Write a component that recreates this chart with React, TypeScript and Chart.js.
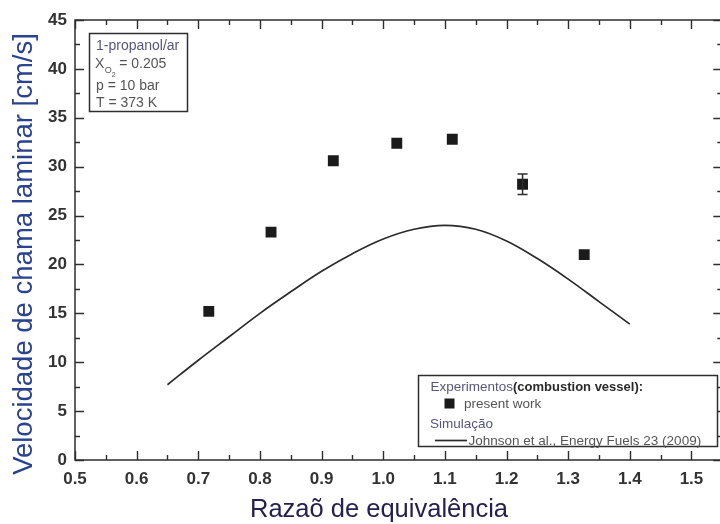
import React, { useEffect, useRef } from "react";
import { Chart, registerables } from "chart.js";

Chart.register(...registerables);

// Measured laminar burning velocities (present work)
const PHI = [0.717, 0.818, 0.919, 1.022, 1.112, 1.226, 1.326];
const SL = [15.2, 23.3, 30.6, 32.4, 32.8, 28.2, 21.0];
const SL_ERR = [0, 0, 0, 0, 0, 1.05, 0];

// Simulation (Johnson et al., Energy Fuels 23, 2009)
const SIM_PHI = [0.65, 0.7, 0.75, 0.8, 0.85, 0.9, 0.95, 1.0, 1.05, 1.1, 1.15, 1.2, 1.25, 1.3, 1.35, 1.4];
const SIM_SL = [7.7, 10.2, 12.6, 15.0, 17.2, 19.3, 21.1, 22.6, 23.6, 24.0, 23.6, 22.4, 20.6, 18.5, 16.2, 13.9];

const X_MIN = 0.5;
const X_MAX = 1.55;
const X_STEP = 0.1;
const Y_MIN = 0;
const Y_MAX = 45;
const Y_STEP = 5;

const X_TITLE = "Razaõ de equivalência";
const Y_TITLE = "Velocidade de chama laminar [cm/s]";
const CONDITIONS = ["1-propanol/ar", "X", "p = 10 bar", "T = 373 K"];
const X_O2_VALUE = " = 0.205";
const LEGEND_GROUP1 = "Experimentos";
const LEGEND_GROUP1_NOTE = "(combustion vessel):";
const LEGEND_EXP = "present work";
const LEGEND_GROUP2 = "Simulação";
const LEGEND_SIM = "Johnson et al., Energy Fuels 23 (2009)";

const FONT = "'Liberation Sans', Arial, Helvetica, sans-serif";
const INK = "#2e2e2e";
const ACCENT = "#56567e";

function minorValues(majors: number[], min: number, max: number): number[] {
  const out: number[] = [];
  for (let i = 0; i < majors.length - 1; i++) out.push((majors[i] + majors[i + 1]) / 2);
  if (majors.length > 1) {
    const step = majors[1] - majors[0];
    const after = majors[majors.length - 1] + step / 2;
    if (after < max - 1e-9) out.push(after);
    const before = majors[0] - step / 2;
    if (before > min + 1e-9) out.push(before);
  }
  return out;
}

const framePlugin = {
  id: "frameTicks",
  afterDraw(chart: any) {
    const { ctx, chartArea: a, scales } = chart;
    const xs = scales.x;
    const ys = scales.y;
    ctx.save();
    ctx.strokeStyle = INK;
    ctx.lineWidth = 1.5;
    ctx.strokeRect(a.left, a.top, a.right - a.left, a.bottom - a.top);
    ctx.lineWidth = 1.4;
    const xMaj = xs.ticks.map((t: any) => t.value);
    const yMaj = ys.ticks.map((t: any) => t.value);
    const drawX = (vals: number[], len: number) => {
      vals.forEach((v) => {
        const px = Math.round(xs.getPixelForValue(v)) + 0.5;
        ctx.beginPath();
        ctx.moveTo(px, a.bottom);
        ctx.lineTo(px, a.bottom - len);
        ctx.moveTo(px, a.top);
        ctx.lineTo(px, a.top + len);
        ctx.stroke();
      });
    };
    const drawY = (vals: number[], len: number) => {
      vals.forEach((v) => {
        const py = Math.round(ys.getPixelForValue(v)) + 0.5;
        ctx.beginPath();
        ctx.moveTo(a.left, py);
        ctx.lineTo(a.left + len, py);
        ctx.moveTo(a.right, py);
        ctx.lineTo(a.right - len, py);
        ctx.stroke();
      });
    };
    drawX(xMaj, 9);
    drawX(minorValues(xMaj, xs.min, xs.max), 5);
    drawY(yMaj, 9);
    drawY(minorValues(yMaj, ys.min, ys.max), 5);
    ctx.restore();
  },
};

const errorBarPlugin = {
  id: "errorBars",
  afterDatasetsDraw(chart: any) {
    const { ctx, scales } = chart;
    const xs = scales.x;
    const ys = scales.y;
    ctx.save();
    ctx.strokeStyle = INK;
    ctx.lineWidth = 1.5;
    PHI.forEach((x, i) => {
      const e = SL_ERR[i];
      if (!e) return;
      const px = xs.getPixelForValue(x);
      const top = ys.getPixelForValue(SL[i] + e);
      const bot = ys.getPixelForValue(SL[i] - e);
      ctx.beginPath();
      ctx.moveTo(px, top);
      ctx.lineTo(px, bot);
      ctx.moveTo(px - 5, top);
      ctx.lineTo(px + 5, top);
      ctx.moveTo(px - 5, bot);
      ctx.lineTo(px + 5, bot);
      ctx.stroke();
    });
    ctx.restore();
  },
};

const notesPlugin = {
  id: "notes",
  afterDraw(chart: any) {
    const { ctx } = chart;
    ctx.save();
    ctx.textBaseline = "alphabetic";

    // axis titles
    ctx.fillStyle = "#2a4390";
    ctx.font = `27.5px ${FONT}`;
    ctx.textAlign = "center";
    ctx.save();
    ctx.translate(32, 254);
    ctx.rotate(-Math.PI / 2);
    ctx.fillText(Y_TITLE, 0, 0);
    ctx.restore();
    ctx.fillStyle = "#25204f";
    ctx.font = `25.5px ${FONT}`;
    ctx.fillText(X_TITLE, 379, 517);

    // conditions box
    ctx.textAlign = "left";
    ctx.strokeStyle = INK;
    ctx.lineWidth = 1.5;
    ctx.strokeRect(89.5, 33.5, 98, 78);
    ctx.font = `14px ${FONT}`;
    ctx.fillStyle = ACCENT;
    ctx.fillText(CONDITIONS[0], 96, 50);
    ctx.fillStyle = "#555";
    ctx.fillText(CONDITIONS[1], 95, 68);
    const xo = 95 + ctx.measureText(CONDITIONS[1]).width;
    ctx.font = `9px ${FONT}`;
    ctx.fillText("O", xo + 0.5, 73);
    const wO = ctx.measureText("O").width;
    ctx.font = `7px ${FONT}`;
    ctx.fillText("2", xo + 0.5 + wO, 77);
    ctx.font = `14px ${FONT}`;
    ctx.fillText(X_O2_VALUE, xo + wO + 4, 68);
    ctx.fillText(CONDITIONS[2], 96, 90);
    ctx.fillText(CONDITIONS[3], 96, 107);

    // legend box
    ctx.fillStyle = "#fff";
    ctx.fillRect(418.5, 375.5, 299, 71);
    ctx.strokeRect(418.5, 375.5, 299, 71);
    ctx.font = `13.5px ${FONT}`;
    ctx.fillStyle = ACCENT;
    ctx.fillText(LEGEND_GROUP1, 430.5, 391);
    const wG = ctx.measureText(LEGEND_GROUP1).width;
    ctx.font = `bold 13px ${FONT}`;
    ctx.fillStyle = "#2a2a2a";
    ctx.fillText(LEGEND_GROUP1_NOTE, 430.5 + wG, 391);
    ctx.fillStyle = "#1b1b1b";
    ctx.fillRect(444.5, 398.5, 10, 10);
    ctx.font = `13.5px ${FONT}`;
    ctx.fillStyle = "#555";
    ctx.fillText(LEGEND_EXP, 464, 408);
    ctx.fillStyle = ACCENT;
    ctx.fillText(LEGEND_GROUP2, 430, 427.5);
    ctx.strokeStyle = "#2b2b2b";
    ctx.lineWidth = 1.7;
    ctx.beginPath();
    ctx.moveTo(435, 440.5);
    ctx.lineTo(467, 440.5);
    ctx.stroke();
    ctx.fillStyle = "#555";
    ctx.fillText(LEGEND_SIM, 468.5, 445);
    ctx.restore();
  },
};

export default function App() {
  const ref = useRef<HTMLCanvasElement>(null);

  useEffect(() => {
    const canvas = ref.current;
    if (!canvas) return;
    const tickFont = { family: FONT, size: 17, weight: "bold" as const };
    const chart = new Chart(canvas, {
      type: "scatter",
      data: {
        datasets: [
          {
            type: "line",
            label: LEGEND_SIM,
            data: SIM_PHI.map((x, i) => ({ x, y: SIM_SL[i] })),
            borderColor: "#2b2b2b",
            borderWidth: 1.7,
            pointRadius: 0,
            tension: 0.4,
            fill: false,
            order: 2,
          } as any,
          {
            type: "scatter",
            label: LEGEND_EXP,
            data: PHI.map((x, i) => ({ x, y: SL[i] })),
            pointStyle: "rect",
            pointRadius: 7.7,
            backgroundColor: "#1b1b1b",
            borderColor: "#1b1b1b",
            borderWidth: 0,
            order: 1,
          },
        ],
      },
      options: {
        responsive: false,
        animation: false,
        layout: { padding: { left: 0, top: 20, right: 5, bottom: 0 } },
        plugins: { legend: { display: false }, tooltip: { enabled: false } },
        scales: {
          x: {
            type: "linear",
            min: X_MIN,
            max: X_MAX,
            afterFit: (s: any) => {
              s.height = 64;
            },
            grid: { display: false, drawTicks: false },
            border: { display: false },
            ticks: {
              stepSize: X_STEP,
              includeBounds: false,
              autoSkip: false,
              maxRotation: 0,
              padding: 9,
              color: "#333",
              font: tickFont,
              callback: (v: any) => Number(v).toFixed(1),
            },
          },
          y: {
            type: "linear",
            min: Y_MIN,
            max: Y_MAX,
            afterFit: (s: any) => {
              s.width = 75;
            },
            grid: { display: false, drawTicks: false },
            border: { display: false },
            ticks: {
              stepSize: Y_STEP,
              autoSkip: false,
              padding: 8,
              color: "#333",
              font: tickFont,
              callback: (v: any) => String(v),
            },
          },
        },
      },
      plugins: [errorBarPlugin, framePlugin, notesPlugin],
    });
    return () => chart.destroy();
  }, []);

  return (
    <div
      style={{
        position: "fixed",
        left: 0,
        top: 0,
        width: 720,
        height: 524,
        overflow: "hidden",
        background: "#fff",
      }}
    >
      <canvas ref={ref} width={730} height={524} style={{ display: "block", width: 730, height: 524 }} />
    </div>
  );
}
